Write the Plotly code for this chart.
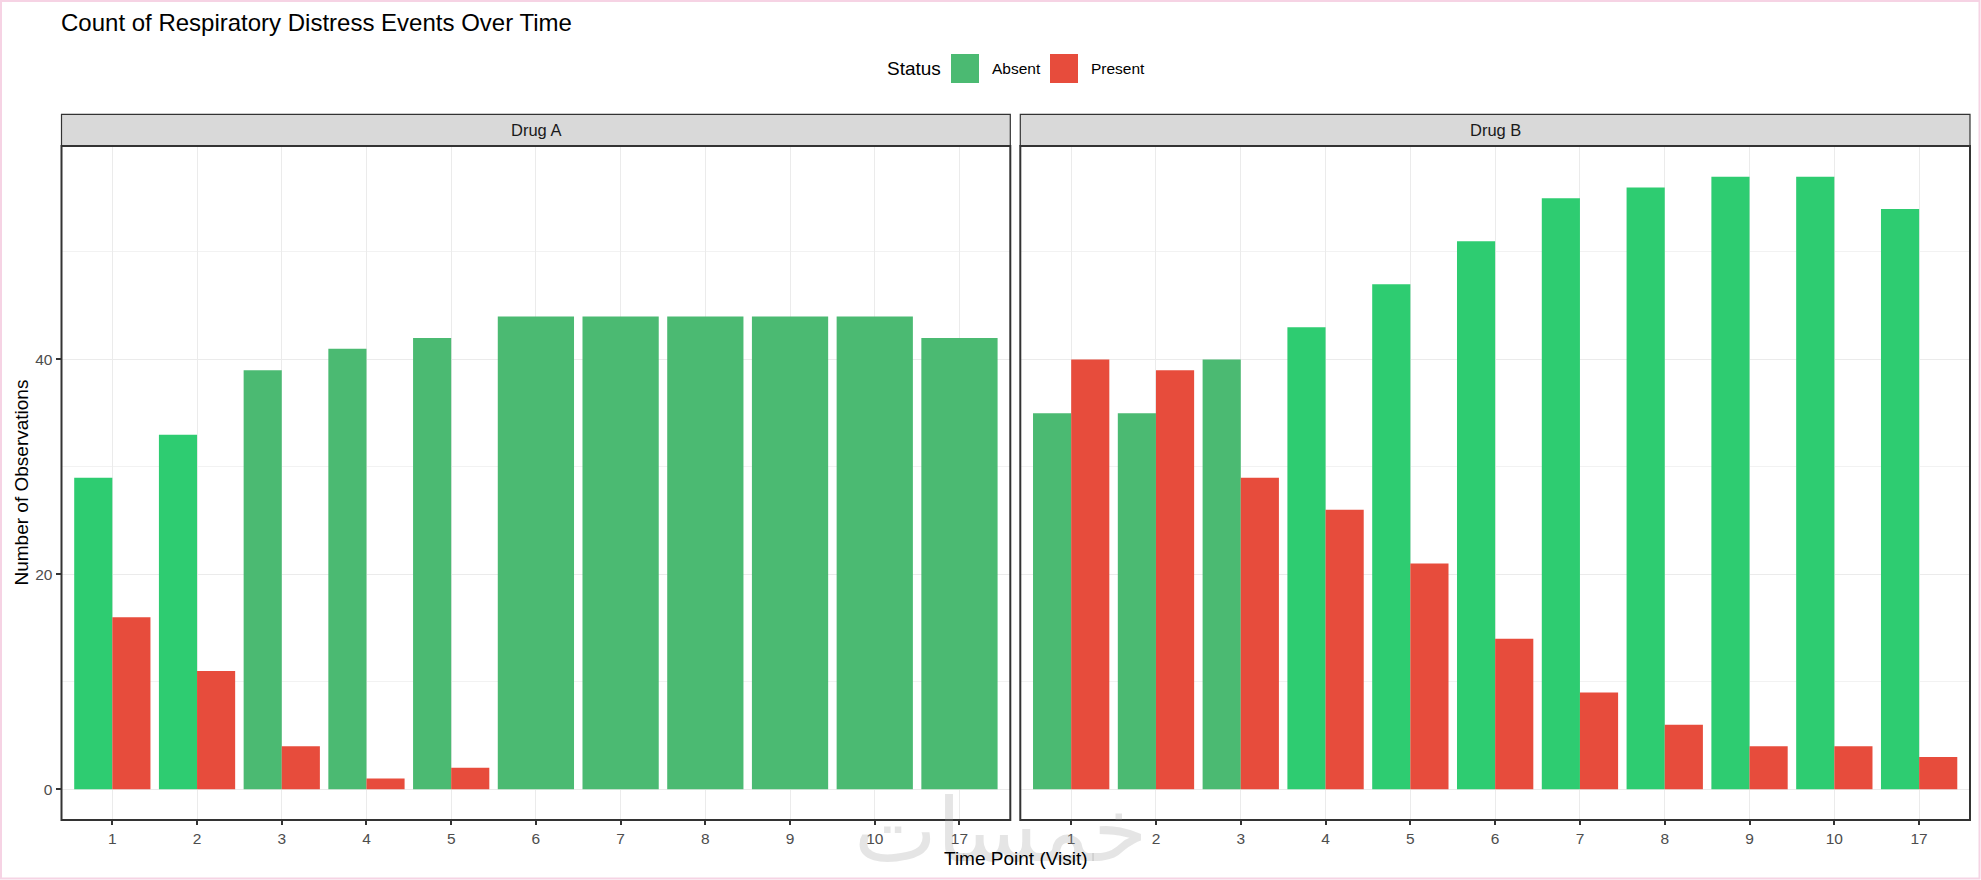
import plotly.graph_objects as go

# ---------------- data ----------------
time_points = ["1", "2", "3", "4", "5", "6", "7", "8", "9", "10", "17"]
drugs = ["Drug A", "Drug B"]
status_levels = ["Absent", "Present"]
absent_a = [29, 33, 39, 41, 42, 44, 44, 44, 44, 44, 42]
present_a = [16, 11, 4, 1, 2, None, None, None, None, None, None]
absent_b = [35, 35, 40, 43, 47, 51, 55, 56, 57, 57, 54]
present_b = [40, 39, 29, 26, 21, 14, 9, 6, 4, 4, 3]

# ---------------- style ----------------
W, H = 1981, 880
GREEN_DULL = "#4BBA72"
GREEN_BRIGHT = "#2ECC71"
RED = "#E74C3C"
shade_a = [GREEN_BRIGHT, GREEN_BRIGHT] + [GREEN_DULL] * 9
shade_b = [GREEN_DULL] * 3 + [GREEN_BRIGHT] * 8
FONT = "Liberation Sans, Arial, sans-serif"
BAR_W = 0.9

panels_px = [(61.5, 1010.3), (1020.3, 1970.0)]
plot_top, plot_bottom = 146.0, 820.0
strip_top = 114.3


def px(x):
    return x / W


def py(y):
    return 1 - y / H


fig = go.Figure()
positions = list(range(1, len(time_points) + 1))
panel_data = [(absent_a, present_a, shade_a), (absent_b, present_b, shade_b)]

for i, (absent, present, shades) in enumerate(panel_data):
    xa = "x" if i == 0 else "x2"
    ya = "y" if i == 0 else "y2"
    widths, offsets = [], []
    for p in present:
        if p is None:
            widths.append(BAR_W)
            offsets.append(-BAR_W / 2)
        else:
            widths.append(BAR_W / 2)
            offsets.append(-BAR_W / 2)
    fig.add_trace(go.Bar(x=positions, y=absent, width=widths, offset=offsets,
                         marker=dict(color=shades, line=dict(width=0)),
                         name=status_levels[0], showlegend=False,
                         xaxis=xa, yaxis=ya))
    px_pos = [x for x, p in zip(positions, present) if p is not None]
    pv = [p for p in present if p is not None]
    fig.add_trace(go.Bar(x=px_pos, y=pv, width=[BAR_W / 2] * len(pv),
                         offset=[0] * len(pv),
                         marker=dict(color=RED, line=dict(width=0)),
                         name=status_levels[1], showlegend=False,
                         xaxis=xa, yaxis=ya))

common_x = dict(range=[0.4, len(time_points) + 0.6], tickvals=positions,
                ticktext=time_points, showgrid=True, gridcolor="#EBEBEB",
                gridwidth=1.2, zeroline=False, ticks="outside", ticklen=4,
                tickwidth=1.5, tickcolor="#333333", showline=False,
                tickfont=dict(size=15.5, color="#4D4D4D", family=FONT))
common_y = dict(range=[-2.85, 59.85], tickvals=[0, 20, 40], showgrid=True,
                gridcolor="#EBEBEB", gridwidth=1.2, zeroline=False,
                minor=dict(dtick=10, tick0=0, showgrid=True, gridcolor="#F2F2F2",
                           gridwidth=0.9),
                domain=[py(plot_bottom), py(plot_top)], showline=False)

fig.update_layout(
    xaxis=dict(domain=[px(panels_px[0][0]), px(panels_px[0][1])], anchor="y", **common_x),
    xaxis2=dict(domain=[px(panels_px[1][0]), px(panels_px[1][1])], anchor="y2", **common_x),
    yaxis=dict(anchor="x", ticks="outside", ticklen=5, tickwidth=1.5, tickcolor="#333333",
               tickfont=dict(size=15.5, color="#4D4D4D", family=FONT), **common_y),
    yaxis2=dict(anchor="x2", showticklabels=False, ticks="", **common_y),
    barmode="overlay",
    width=W, height=H,
    margin=dict(l=0, r=0, t=0, b=0),
    paper_bgcolor="white", plot_bgcolor="white",
    font=dict(family=FONT, color="#000000"),
)

shapes = []
annotations = []
for i, (x0, x1) in enumerate(panels_px):
    # strip
    shapes.append(dict(type="rect", xref="paper", yref="paper",
                       x0=px(x0), x1=px(x1), y0=py(plot_top), y1=py(strip_top),
                       fillcolor="#D9D9D9", line=dict(color="#333333", width=1.2),
                       layer="above"))
    # panel border
    shapes.append(dict(type="rect", xref="paper", yref="paper",
                       x0=px(x0), x1=px(x1), y0=py(plot_bottom), y1=py(plot_top),
                       fillcolor="rgba(0,0,0,0)", line=dict(color="#333333", width=2),
                       layer="above"))
    annotations.append(dict(text=drugs[i], xref="paper", yref="paper",
                            x=px((x0 + x1) / 2), y=py((strip_top + plot_top) / 2),
                            xanchor="center", yanchor="middle", showarrow=False,
                            font=dict(size=16.5, color="#1A1A1A", family=FONT)))

# outer pink frame
shapes.append(dict(type="rect", xref="paper", yref="paper",
                   x0=px(1), x1=px(W - 1.5), y0=py(H - 1.5), y1=py(1),
                   fillcolor="rgba(0,0,0,0)", line=dict(color="#F6D3E4", width=2)))

# title
annotations.append(dict(text="Count of Respiratory Distress Events Over Time",
                        xref="paper", yref="paper", x=px(59), y=py(22),
                        xanchor="left", yanchor="middle", showarrow=False,
                        font=dict(size=24, color="#000000", family=FONT)))

# legend (manual)
annotations.append(dict(text="Status", xref="paper", yref="paper", x=px(885), y=py(68),
                        xanchor="left", yanchor="middle", showarrow=False,
                        font=dict(size=19, color="#000000", family=FONT)))
legend_items = [(status_levels[0], GREEN_DULL, 951, 991), (status_levels[1], RED, 1050, 1090)]
for label, col, kx, tx in legend_items:
    shapes.append(dict(type="rect", xref="paper", yref="paper",
                       x0=px(kx), x1=px(kx + 28), y0=py(83), y1=py(54),
                       fillcolor=col, line=dict(width=0)))
    annotations.append(dict(text=label, xref="paper", yref="paper", x=px(tx - 1), y=py(68),
                            xanchor="left", yanchor="middle", showarrow=False,
                            font=dict(size=15.5, color="#000000", family=FONT)))

# watermark
annotations.append(dict(text="خمسات", xref="paper", yref="paper", x=px(1000), y=py(830),
                        xanchor="center", yanchor="middle", showarrow=False,
                        font=dict(size=88, color="rgba(150,150,150,0.25)", family="DejaVu Sans")))

# axis titles
annotations.append(dict(text="Time Point (Visit)", xref="paper", yref="paper",
                        x=px((panels_px[0][0] + panels_px[1][1]) / 2), y=py(858),
                        xanchor="center", yanchor="middle", showarrow=False,
                        font=dict(size=19, color="#000000", family=FONT)))
annotations.append(dict(text="Number of Observations", xref="paper", yref="paper",
                        x=px(20.5), y=py((plot_top + plot_bottom) / 2), textangle=-90,
                        xanchor="center", yanchor="middle", showarrow=False,
                        font=dict(size=19, color="#000000", family=FONT)))

fig.update_layout(shapes=shapes, annotations=annotations)
fig.write_html("out.html", config={"displayModeBar": False},
               post_script="document.body.style.margin='0px';document.body.style.padding='0px';")
